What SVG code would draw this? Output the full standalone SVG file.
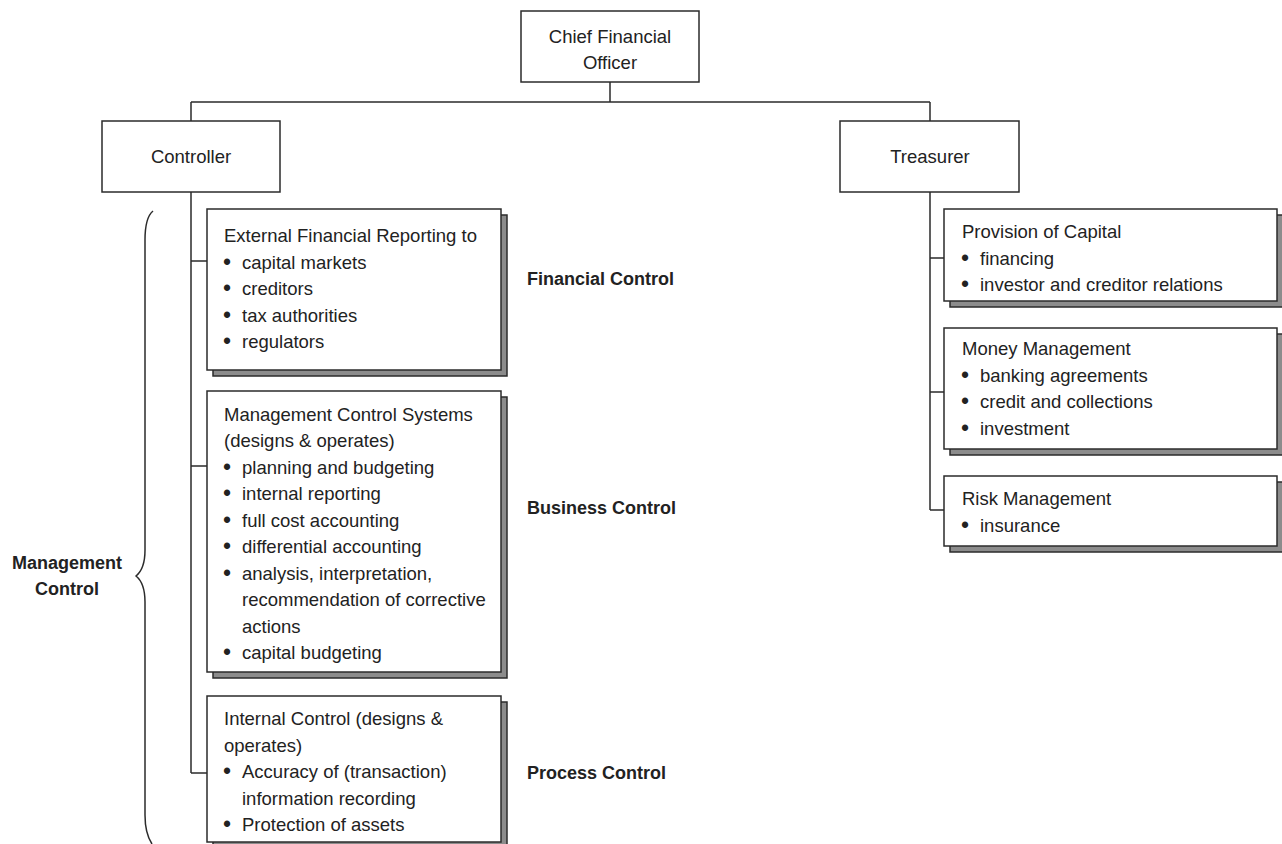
<svg xmlns="http://www.w3.org/2000/svg" width="1282" height="844" viewBox="0 0 1282 844">
<style>
  .box { fill: #fff; stroke: #2b2b2b; stroke-width: 1.5; }
  .shadow { fill: #8c8c8c; stroke: #2b2b2b; stroke-width: 1.5; }
  .ln { fill: none; stroke: #2b2b2b; stroke-width: 1.5; }
  text { font-family: "Liberation Sans", Arial, sans-serif; font-size: 18.5px; fill: #222; }
  .c { text-anchor: middle; }
  .b { font-weight: bold; font-size: 18px; }
  .d { font-size: 23px; }
</style>
<rect width="1282" height="844" fill="#fff"/>
<g id="connectors">
  <path class="ln" d="M610,82 V102 M191,102 H930 M191,102 V121 M930,102 V121"/>
  <path class="ln" d="M191,192 V773 M191,261 H207 M191,466 H207 M191,773 H207"/>
  <path class="ln" d="M930,192 V510 M930,258 H944 M930,392 H944 M930,510 H944"/>
</g>
<g id="cfo">
  <rect class="box" x="521" y="11" width="178" height="71"/>
  <text class="c" x="610" y="43">Chief Financial</text>
  <text class="c" x="610" y="69">Officer</text>
</g>
<g id="controller">
  <rect class="box" x="102" y="121" width="178" height="71"/>
  <text class="c" x="191" y="163">Controller</text>
</g>
<g id="treasurer">
  <rect class="box" x="840" y="121" width="179" height="71"/>
  <text class="c" x="930" y="163">Treasurer</text>
</g>
<g id="external">
  <rect class="shadow" x="213" y="215" width="294" height="161"/>
  <rect class="box" x="207" y="209" width="294" height="161"/>
  <text x="224" y="242">External Financial Reporting to</text>
  <text class="d" x="223" y="269.5">•</text><text x="242" y="268.5">capital markets</text>
  <text class="d" x="223" y="296">•</text><text x="242" y="295">creditors</text>
  <text class="d" x="223" y="322.5">•</text><text x="242" y="321.5">tax authorities</text>
  <text class="d" x="223" y="349">•</text><text x="242" y="348">regulators</text>
</g>
<g id="mcs">
  <rect class="shadow" x="213" y="397" width="294" height="281"/>
  <rect class="box" x="207" y="391" width="294" height="281"/>
  <text x="224" y="420.5">Management Control Systems</text>
  <text x="224" y="447">(designs &amp; operates)</text>
  <text class="d" x="223" y="474.5">•</text><text x="242" y="473.5">planning and budgeting</text>
  <text class="d" x="223" y="501">•</text><text x="242" y="500">internal reporting</text>
  <text class="d" x="223" y="527.5">•</text><text x="242" y="526.5">full cost accounting</text>
  <text class="d" x="223" y="554">•</text><text x="242" y="553">differential accounting</text>
  <text class="d" x="223" y="580.5">•</text><text x="242" y="579.5">analysis, interpretation,</text>
  <text x="242" y="606">recommendation of corrective</text>
  <text x="242" y="632.5">actions</text>
  <text class="d" x="223" y="660">•</text><text x="242" y="659">capital budgeting</text>
</g>
<g id="internal">
  <rect class="shadow" x="213" y="702" width="294" height="146"/>
  <rect class="box" x="207" y="696" width="294" height="146"/>
  <text x="224" y="725">Internal Control (designs &amp;</text>
  <text x="224" y="751.5">operates)</text>
  <text class="d" x="223" y="779">•</text><text x="242" y="778">Accuracy of (transaction)</text>
  <text x="242" y="804.5">information recording</text>
  <text class="d" x="223" y="832">•</text><text x="242" y="831">Protection of assets</text>
</g>
<g id="provision">
  <rect class="shadow" x="950" y="215" width="333" height="92"/>
  <rect class="box" x="944" y="209" width="333" height="92"/>
  <text x="962" y="238">Provision of Capital</text>
  <text class="d" x="961" y="265.5">•</text><text x="980" y="264.5">financing</text>
  <text class="d" x="961" y="292">•</text><text x="980" y="291">investor and creditor relations</text>
</g>
<g id="money">
  <rect class="shadow" x="950" y="334" width="333" height="121"/>
  <rect class="box" x="944" y="328" width="333" height="121"/>
  <text x="962" y="355">Money Management</text>
  <text class="d" x="961" y="382.5">•</text><text x="980" y="381.5">banking agreements</text>
  <text class="d" x="961" y="409">•</text><text x="980" y="408">credit and collections</text>
  <text class="d" x="961" y="435.5">•</text><text x="980" y="434.5">investment</text>
</g>
<g id="risk">
  <rect class="shadow" x="950" y="482" width="333" height="70"/>
  <rect class="box" x="944" y="476" width="333" height="70"/>
  <text x="962" y="505">Risk Management</text>
  <text class="d" x="961" y="532.5">•</text><text x="980" y="531.5">insurance</text>
</g>
<g id="labels">
  <text class="b" x="527" y="285">Financial Control</text>
  <text class="b" x="527" y="514">Business Control</text>
  <text class="b" x="527" y="779">Process Control</text>
</g>
<g id="management-control">
  <path class="ln" d="M153,211 C147,216 145,225 145,240 V550 C145,566 141,572 136,576 C141,580 145,586 145,602 V815 C145,830 148,838 152,844"/>
  <text class="b c" x="67" y="569">Management</text>
  <text class="b c" x="67" y="595">Control</text>
</g>
</svg>
